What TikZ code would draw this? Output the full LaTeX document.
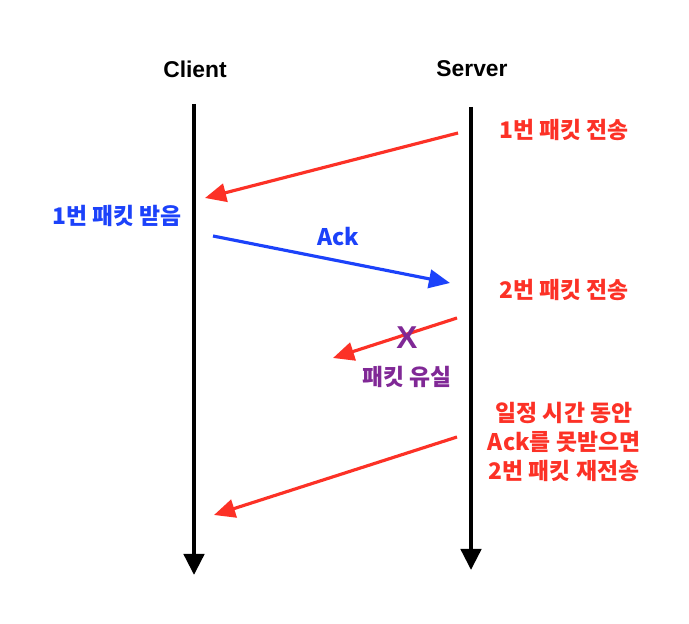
\documentclass[tikz,border=0pt]{standalone}
\usepackage{fontspec}
\setmainfont{Liberation Sans}
\newfontfamily\kr{Noto Sans CJK KR}
\usetikzlibrary{arrows.meta}

\definecolor{msgred}{RGB}{252,49,38}
\definecolor{msgblue}{RGB}{28,66,250}
\definecolor{lostpurple}{RGB}{128,40,150}

\tikzset{
  life/.style={line width=2.4pt, -{Triangle[length=12pt,width=11.5pt]}},
  msg/.style={line width=1.8pt, -{Triangle[length=12pt,width=10.5pt]}},
  lbl/.style={font=\kr\bfseries\fontsize{13}{16.6}\selectfont, align=center, inner sep=1pt}
}

\begin{document}
\begin{tikzpicture}[x=0.02cm, y=-0.02cm]

\useasboundingbox (0,0) rectangle (689,624);

\node [font=\bfseries\fontsize{13}{15}\selectfont] (client) at (195,69) {Client};
\node [font=\bfseries\fontsize{13}{15}\selectfont] (server) at (472,69) {Server};

\coordinate (c0) at (194,104);
\coordinate (c1) at (194,575);
\coordinate (s0) at (471,107);
\coordinate (s1) at (471,570);
\draw [life] (c0) -- (c1);
\draw [life] (s0) -- (s1);

\coordinate (p1a) at (458,133);
\coordinate (p1b) at (205,198);
\draw [msg, msgred] (p1a) -- (p1b);
\node [lbl, msgred] (sent1) at (564,130) {1번 패킷 전송};
\node [lbl, msgblue] (recv1) at (117,216) {1번 패킷 받음};

\coordinate (acka) at (213,236);
\coordinate (ackb) at (450,283);
\draw [msg, msgblue] (acka) -- (ackb);
\node [lbl, msgblue] (ack) at (338,237) {Ack};

\node [lbl, msgred] (sent2) at (564,290) {2번 패킷 전송};
\coordinate (p2a) at (457,318);
\coordinate (p2b) at (333,358);
\draw [msg, msgred] (p2a) -- (p2b);
\node [lostpurple, font=\bfseries\fontsize{18}{18}\selectfont] (lost) at (407,338) {X};
\node [lbl, lostpurple] (lostlbl) at (407,377) {패킷 유실};

\node [lbl, msgred] (resend) at (564,442) {일정 시간 동안\\Ack를 못받으면\\2번 패킷 재전송};
\coordinate (p3a) at (457,437);
\coordinate (p3b) at (214,515);
\draw [msg, msgred] (p3a) -- (p3b);

\end{tikzpicture}
\end{document}
